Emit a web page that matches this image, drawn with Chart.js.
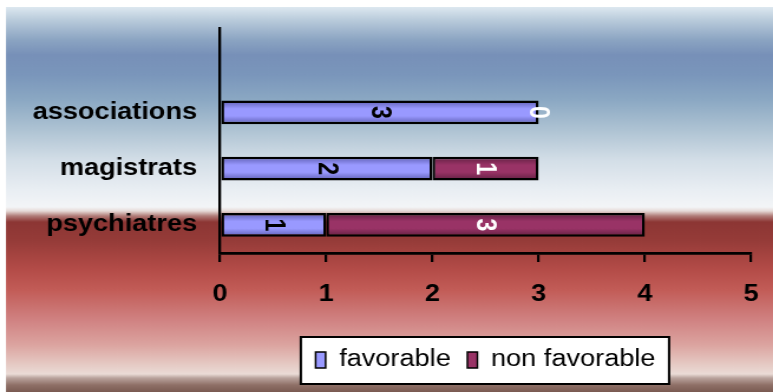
<!DOCTYPE html>
<html>
<head>
<meta charset="utf-8">
<script src="https://cdn.jsdelivr.net/npm/chart.js@4/dist/chart.umd.min.js"></script>
<style>
  html, body { margin: 0; padding: 0; background: #fff; overflow: hidden; }
  /* the original picture is stretched sideways, so the whole chart is too */
  #wrap { width: 655px; height: 392px; transform: scaleX(1.1802); transform-origin: 0 0; }
</style>
</head>
<body>
<div id="wrap"><canvas id="chart"></canvas></div>
<script>
const categories = ["associations", "magistrats", "psychiatres"];
const seriesNames = ["favorable", "non favorable"];
const favorable = [3, 2, 1];
const nonFavorable = [0, 1, 3];
const xMax = 5;

const FONT = "'Liberation Sans', Arial, sans-serif";
const flatColors = ["#9999ff", "#993366"];
const edgeColors = ["#5c5cb0", "#5e1f40"];

// bevel look on the bars: darker at top and bottom edge
function barFill(i) {
    return function(c) {
        const ys = c.chart.scales.y;
        if (c.type !== "data" || !ys) return flatColors[i];
        const py = ys.getPixelForValue(c.dataIndex);
        if (!isFinite(py)) return flatColors[i];
        const g = c.chart.ctx.createLinearGradient(0, py - 12, 0, py + 12);
        g.addColorStop(0, edgeColors[i]);
        g.addColorStop(0.35, flatColors[i]);
        g.addColorStop(0.65, flatColors[i]);
        g.addColorStop(1, edgeColors[i]);
        return g;
    };
}

const background = {
    id: "background",
    beforeDraw(chart) {
        const ctx = chart.ctx;
        const w = chart.width, h = chart.height;
        ctx.save();
        ctx.fillStyle = "#fff";
        ctx.fillRect(0, 0, w, h);
        const top = 7;
        const g = ctx.createLinearGradient(0, top, 0, h);
        const stops = [
            [7, "#dde8f0"], [20, "#b9cbdb"], [40, "#8ba4c2"], [55, "#7790b8"],
            [75, "#7a96bb"], [100, "#8ba8c3"], [130, "#aec3d3"], [160, "#d3dee7"],
            [190, "#e9eef3"], [207, "#f3f5f7"], [211, "#e6dad7"], [216, "#b07c78"],
            [222, "#8c3634"], [240, "#953b38"], [270, "#b44c48"], [290, "#c25c57"],
            [320, "#d08282"], [345, "#dca4a0"], [365, "#e6cbc5"], [374, "#eadbd6"],
            [378, "#b9a39d"], [385, "#8f7067"], [392, "#7a5a52"]
        ];
        stops.forEach(s => g.addColorStop((s[0] - top) / (h - top), s[1]));
        ctx.fillStyle = g;
        ctx.fillRect(5.1, top, w - 5.1, h - top);

        // framed legend
        const hb = chart.legend.legendHitBoxes;
        if (hb && hb.length) {
            const first = hb[0], last = hb[hb.length - 1];
            const x1 = first.left - 12.5;
            const x2 = last.left + last.width + 11.5;
            const cy = first.top + first.height / 2;
            ctx.fillStyle = "#fff";
            ctx.fillRect(x1, cy - 23, x2 - x1, 47);
            ctx.strokeStyle = "#000";
            ctx.lineWidth = 2;
            ctx.strokeRect(x1, cy - 23, x2 - x1, 47);
        }
        ctx.restore();
    }
};

const valueLabels = {
    id: "valueLabels",
    afterDatasetsDraw(chart) {
        const ctx = chart.ctx;
        chart.data.datasets.forEach((ds, i) => {
            const meta = chart.getDatasetMeta(i);
            meta.data.forEach((bar, j) => {
                const v = ds.data[j];
                if (v == null) return;
                ctx.save();
                ctx.translate((bar.x + bar.base) / 2, bar.y);
                ctx.rotate(Math.PI / 2);
                ctx.font = "bold 23px " + FONT;
                ctx.fillStyle = i === 0 ? "#000" : "#fff";
                ctx.textAlign = "center";
                ctx.textBaseline = "middle";
                ctx.fillText(String(v), 0, 1);
                ctx.restore();
            });
        });
    }
};

const ctx = document.getElementById("chart").getContext("2d");

const chart = new Chart(ctx, {
    type: "bar",
    data: {
        labels: [""].concat(categories),
        datasets: [
            {
                label: seriesNames[0],
                data: [null].concat(favorable),
                backgroundColor: barFill(0),
                borderColor: "#000",
                borderWidth: 2.4,
                borderSkipped: false,
                barPercentage: 0.42,
                categoryPercentage: 1
            },
            {
                label: seriesNames[1],
                data: [null].concat(nonFavorable),
                backgroundColor: barFill(1),
                borderColor: "#000",
                borderWidth: c => (c.raw ? 2.4 : 0),
                borderSkipped: false,
                barPercentage: 0.42,
                categoryPercentage: 1
            }
        ]
    },
    options: {
        indexAxis: "y",
        responsive: true,
        maintainAspectRatio: false,
        animation: false,
        layout: { padding: { left: 0, top: 28, right: 18.6, bottom: 10.5 } },
        scales: {
            x: {
                stacked: true,
                min: 0,
                max: xMax,
                ticks: {
                    stepSize: 1,
                    color: "#000",
                    padding: 19,
                    font: { family: FONT, size: 23, weight: "bold" }
                },
                grid: {
                    drawOnChartArea: false,
                    drawTicks: true,
                    tickLength: 9,
                    color: "#000",
                    lineWidth: 2.2
                },
                border: { color: "#000", width: 2.7 },
                afterFit(scale) {
                    scale.height = 81.5;
                    scale.paddingLeft = 0;
                    scale.paddingRight = 0;
                }
            },
            y: {
                stacked: true,
                ticks: {
                    color: "#000",
                    padding: 19.4,
                    font: { family: FONT, size: 23, weight: "bold" }
                },
                grid: { display: false, drawTicks: false },
                border: { display: true, color: "#000", width: 2.3 },
                afterFit(scale) {
                    scale.width = 186.4;
                    scale.paddingTop = 0;
                    scale.paddingBottom = 0;
                }
            }
        },
        plugins: {
            tooltip: { enabled: false },
            legend: {
                position: "bottom",
                fullSize: false,
                labels: {
                    color: "#000",
                    padding: 14,
                    boxWidth: 8.5,
                    boxHeight: 16,
                    font: { family: FONT, size: 23 },
                    generateLabels(ch) {
                        const items = Chart.defaults.plugins.legend.labels.generateLabels(ch);
                        items.forEach((it, i) => {
                            it.fillStyle = flatColors[i];
                            it.strokeStyle = "#000";
                            it.lineWidth = 1.5;
                        });
                        return items;
                    }
                }
            }
        }
    },
    plugins: [background, valueLabels]
});
</script>
</body>
</html>
